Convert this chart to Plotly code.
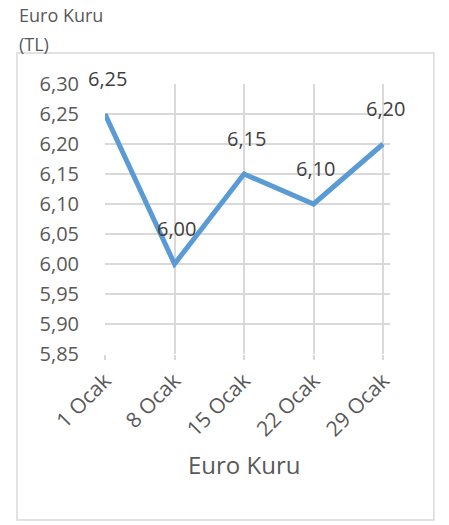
import plotly.graph_objects as go

# Euro kuru (TL), Ocak ayı
dates = ["1 Ocak", "8 Ocak", "15 Ocak", "22 Ocak", "29 Ocak"]
rates = [6.25, 6.00, 6.15, 6.10, 6.20]
labels = ["6,25", "6,00", "6,15", "6,10", "6,20"]

FONT = "Open Sans"
GRAY = "#595959"
GRID = "#d9d9d9"

fig = go.Figure()
fig.add_trace(go.Scatter(
    x=dates,
    y=rates,
    mode="lines",
    line=dict(color="#5b9bd5", width=5),
    hoverinfo="skip",
    showlegend=False,
))

# data labels above points
for d, r, t in zip(dates, rates, labels):
    fig.add_annotation(
        x=d, y=r, text=t, showarrow=False,
        xshift=2, yshift=36, font=dict(family=FONT, size=20, color="#404040"),
    )

# chart frame, heading and axis title
fig.add_shape(
    type="rect", xref="paper", yref="paper",
    x0=-0.309, x1=1.154, y0=-0.615, y1=1.115,
    line=dict(color=GRID, width=1.5), fillcolor="rgba(0,0,0,0)",
)
fig.add_annotation(
    xref="paper", yref="paper", x=-0.31, y=1.257, xanchor="left", yanchor="middle",
    text="Euro Kuru", showarrow=False, font=dict(family=FONT, size=18, color=GRAY),
)
fig.add_annotation(
    xref="paper", yref="paper", x=-0.31, y=1.148, xanchor="left", yanchor="middle",
    text="(TL)", showarrow=False, font=dict(family=FONT, size=18, color=GRAY),
)
fig.add_annotation(
    xref="paper", yref="paper", x=0.488, y=-0.411, xanchor="center", yanchor="middle",
    text="Euro Kuru", showarrow=False, font=dict(family=FONT, size=24, color=GRAY),
)

fig.update_layout(
    width=449,
    height=525,
    margin=dict(l=105, r=59, t=84, b=171),
    paper_bgcolor="white",
    plot_bgcolor="white",
    separators=",.",
    font=dict(family=FONT, color=GRAY),
)
fig.update_xaxes(
    type="category",
    range=[0, 4.1],
    automargin=False,
    showgrid=True, gridcolor=GRID, gridwidth=1.5,
    ticks="outside", ticklen=5, tickcolor=GRID, tickwidth=1.5,
    tickangle=-45,
    tickfont=dict(family=FONT, size=21, color=GRAY),
    showline=False, zeroline=False,
)
fig.update_yaxes(
    range=[5.85, 6.30],
    dtick=0.05,
    tick0=5.85,
    tickformat=".2f",
    automargin=False,
    showgrid=True, gridcolor=GRID, gridwidth=1.5,
    zeroline=False, showline=False,
    ticks="", ticklabelstandoff=25,
    tickfont=dict(family=FONT, size=20, color=GRAY),
)

# drop the default 8px body margin so the figure fills the window
fig.write_html(
    "out.html",
    config={"displayModeBar": False},
    post_script="document.body.style.margin = '0';",
)
